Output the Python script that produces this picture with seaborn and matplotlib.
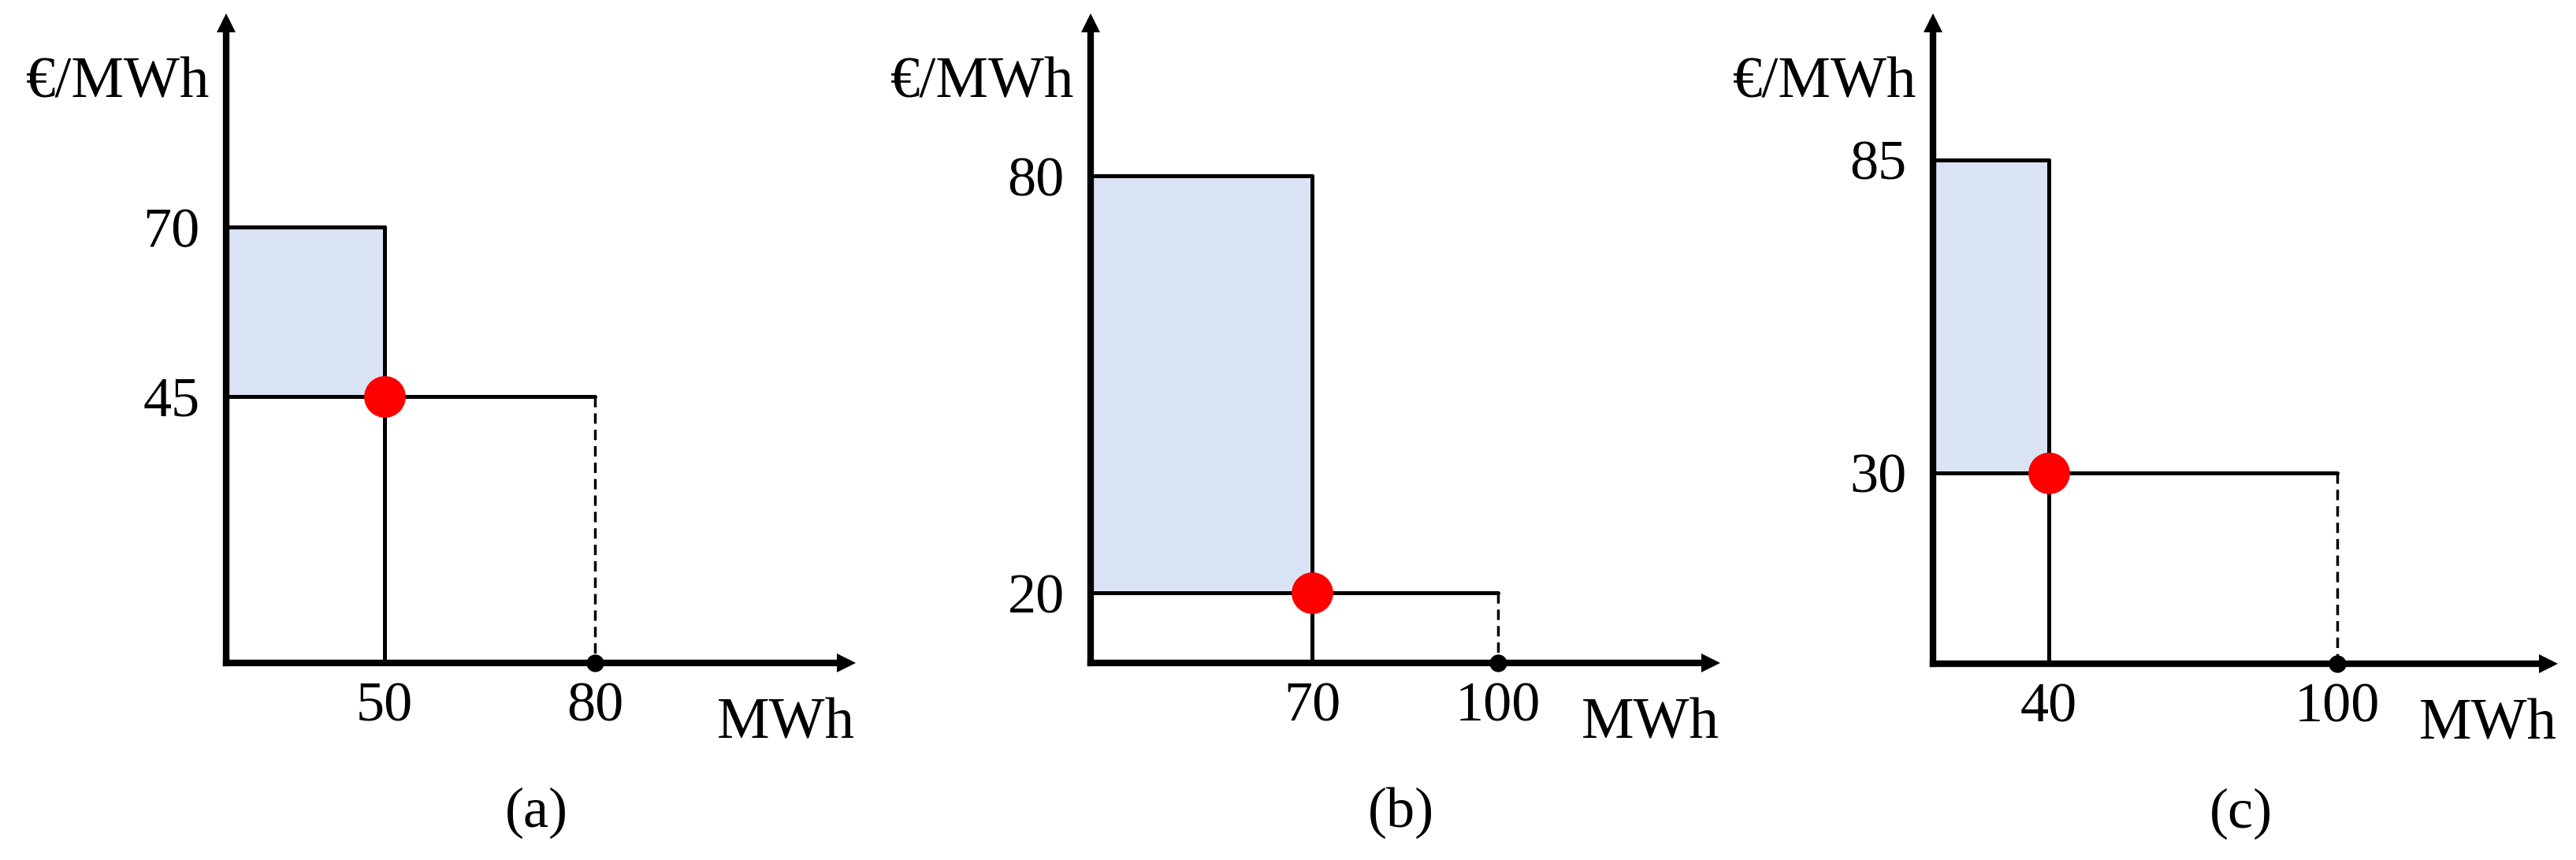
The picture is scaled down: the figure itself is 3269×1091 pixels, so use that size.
import numpy as np
import matplotlib
matplotlib.use("Agg")
import matplotlib.pyplot as plt
import seaborn as sns

# ---------------- data ----------------
panel_labels = ["(a)", "(b)", "(c)"]
clearing_qty = [50, 70, 40]        # MWh at the clearing point (red dot)
clearing_price = [45, 20, 30]      # €/MWh at the clearing point
bid_price = [70, 80, 85]           # upper price of the shaded area
capacity = [80, 100, 100]          # end of the horizontal offer (black dot)
x_unit = "MWh"
y_unit = "€/MWh"

# ---------------- layout (schematic, non-proportional axes) ----------------
# fraction of the axis length at which the two ticks of each axis sit
x_pos = [(0.2554, 0.5947), (0.357, 0.657), (0.188, 0.657)]
y_pos = [(0.4163, 0.681), (0.1096, 0.761), (0.298, 0.786)]
# axes box in pixels: left, bottom (from top), width, height
axes_px = [(287, 841, 787, 812), (1384, 841, 787, 812), (2453, 842, 781, 813)]

W, H = 3269, 1091
FILL = "#DAE3F3"
FS = 52

sns.set_theme(style="white")
plt.rcParams["font.family"] = ["Liberation Serif", "DejaVu Serif"]
plt.rcParams["text.color"] = "black"
plt.rcParams["xtick.color"] = "black"
plt.rcParams["ytick.color"] = "black"


def make_scale(vals, fracs):
    v1, v2 = vals
    f1, f2 = fracs
    slope = (f2 - f1) / (v2 - v1)
    lim = v2 + (1 - f2) / slope
    big = 1e4
    d = np.array([-big, 0.0, v1, v2, lim, lim + big])
    f = np.array([-big * f1 / v1, 0.0, f1, f2, 1.0, 1.0 + big * slope])

    def fwd(x):
        return np.interp(x, d, f)

    def inv(y):
        return np.interp(y, f, d)

    return fwd, inv, lim


def seg(ax, xs, ys, **kw):
    sns.lineplot(x=xs, y=ys, ax=ax, estimator=None, sort=False,
                 color="black", legend=False, **kw)
    return ax.lines[-1]


fig = plt.figure(figsize=(W / 100, H / 100), dpi=100)
fig.patch.set_facecolor("white")

for i in range(3):
    l, b, w, h = axes_px[i]
    ax = fig.add_axes([l / W, (H - b) / H, w / W, h / H])
    q, p, bid, cap = clearing_qty[i], clearing_price[i], bid_price[i], capacity[i]

    fx, ix, xlim = make_scale((q, cap), x_pos[i])
    fy, iy, ylim = make_scale((p, bid), y_pos[i])
    ax.set_xscale("function", functions=(fx, ix))
    ax.set_yscale("function", functions=(fy, iy))

    # shaded area
    ax.fill_between([0, q], p, bid, color=FILL, lw=0, zorder=1)

    # step lines
    lw = 3.6
    seg(ax, [0, q], [bid, bid], lw=lw)
    seg(ax, [q, q], [bid, 0], lw=lw)
    seg(ax, [0, cap], [p, p], lw=lw)
    dl = seg(ax, [cap, cap], [p, 0], lw=2.5)
    dl.set_dashes([3.8, 2.2])

    # points
    sns.scatterplot(x=[q], y=[p], ax=ax, color="#FF0000", s=38 ** 2,
                    linewidth=0, zorder=5, clip_on=False, legend=False)
    sns.scatterplot(x=[cap], y=[0], ax=ax, color="black", s=16 ** 2,
                    linewidth=0, zorder=6, clip_on=False, legend=False)

    ax.set_xlim(0, xlim)
    ax.set_ylim(0, ylim)

    # axes with arrows
    for s in ["top", "right"]:
        ax.spines[s].set_visible(False)
    for s in ["left", "bottom"]:
        ax.spines[s].set_linewidth(6)
        ax.spines[s].set_color("black")
        ax.spines[s].set_capstyle("projecting")
    ax.plot(1, 0, ">", color="black", ms=17, mew=0,
            transform=ax.get_yaxis_transform(), clip_on=False)
    ax.plot(0, 1, "^", color="black", ms=17, mew=0,
            transform=ax.get_xaxis_transform(), clip_on=False)

    # ticks
    ax.minorticks_off()
    ax.set_xticks([q, cap])
    ax.set_xticklabels([str(q), str(cap)])
    ax.set_yticks([p, bid])
    ax.set_yticklabels([str(p), str(bid)])
    ax.tick_params(axis="both", length=0, labelsize=FS)
    ax.tick_params(axis="x", pad=17)
    ax.tick_params(axis="y", pad=24)
    ax.set_xlabel("")
    ax.set_ylabel("")
    ax.grid(False)

    # unit labels and panel label
    ax.annotate(x_unit, xy=(1, 0), xycoords="axes fraction", xytext=(8, -56),
                textcoords="offset points", ha="right", va="center", fontsize=FS + 2)
    ax.annotate(y_unit, xy=(0, 1), xycoords="axes fraction", xytext=(-15, -55),
                textcoords="offset points", ha="right", va="center", fontsize=FS + 2)
    ax.annotate(panel_labels[i], xy=(0.5, 0), xycoords="axes fraction",
                xytext=(0, -137), textcoords="offset points",
                ha="center", va="center", fontsize=FS)

fig.savefig("out.png", dpi=100, facecolor="white")
